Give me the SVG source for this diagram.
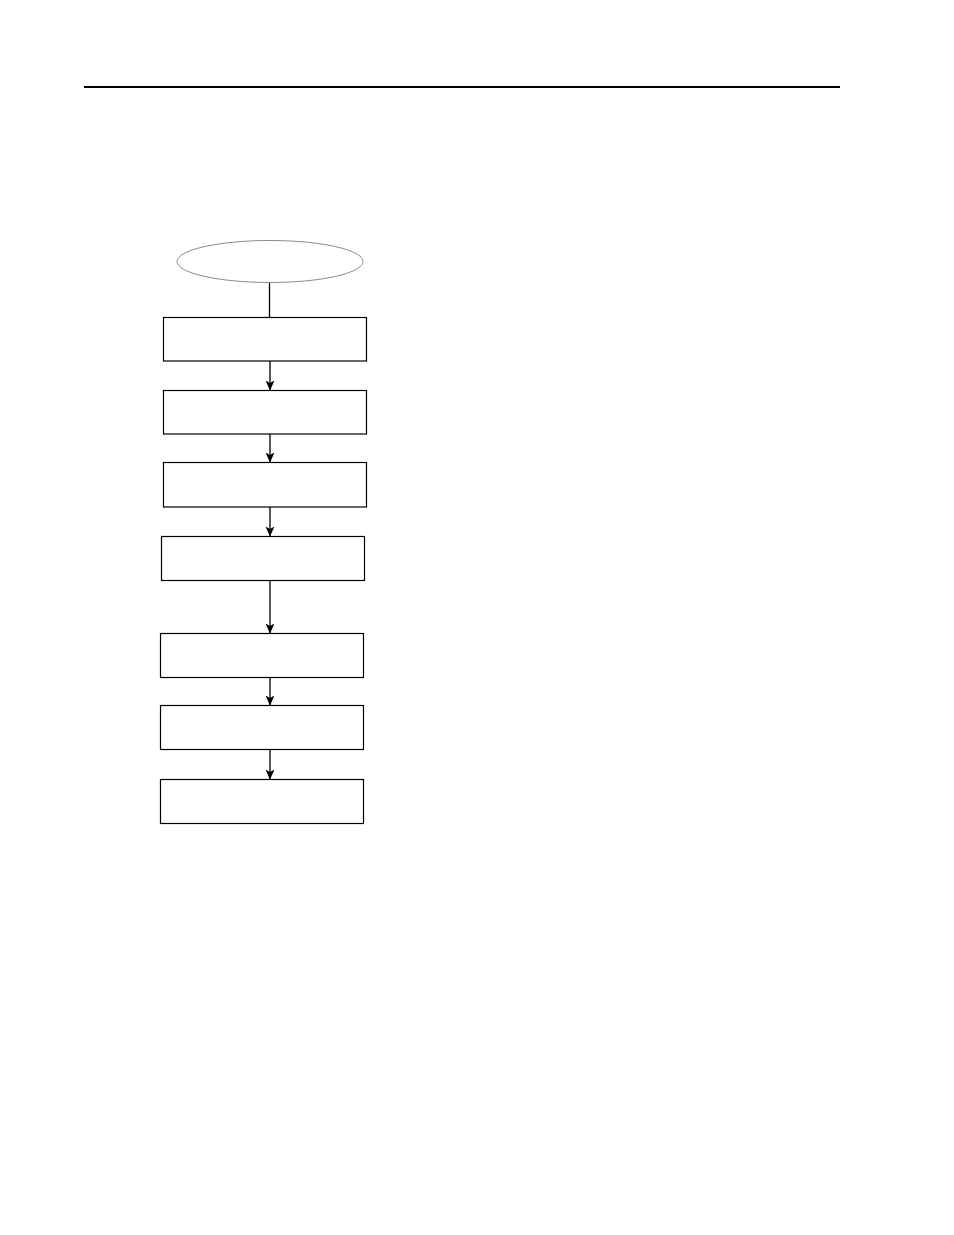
<svg xmlns="http://www.w3.org/2000/svg" width="954" height="1235" viewBox="0 0 954 1235">
<style>
.box{fill:#fff;stroke:#000;stroke-width:1.2}
.conn{stroke:#000;stroke-width:1.3;fill:none}
.start{fill:#fff;stroke:#8c8c8c;stroke-width:1}
</style>
<defs>
<marker id="arr" markerUnits="userSpaceOnUse" markerWidth="10" markerHeight="10" viewBox="0 0 10 10" refX="9.5" refY="5" orient="auto">
<path d="M0,0.5 L10,5 L0,9.5 L2.5,5 Z" fill="#000"/>
</marker>
</defs>
<rect width="954" height="1235" fill="#fff"/>
<line x1="84" y1="87" x2="840" y2="87" stroke="#000" stroke-width="2"/>
<g id="connectors">
<line class="conn" x1="269.5" y1="282" x2="269.5" y2="317.5"/>
<line class="conn" x1="270" y1="361" x2="270" y2="390" marker-end="url(#arr)"/>
<line class="conn" x1="270" y1="434" x2="270" y2="462" marker-end="url(#arr)"/>
<line class="conn" x1="270" y1="507" x2="270" y2="536" marker-end="url(#arr)"/>
<line class="conn" x1="270" y1="580.5" x2="270" y2="633" marker-end="url(#arr)"/>
<line class="conn" x1="270" y1="677.5" x2="270" y2="705" marker-end="url(#arr)"/>
<line class="conn" x1="270" y1="749.5" x2="270" y2="779" marker-end="url(#arr)"/>
</g>
<g id="start"><ellipse class="start" cx="270" cy="261.5" rx="93" ry="21"/></g>
<g id="step1"><rect class="box" x="163.5" y="317.5" width="203" height="43.5"/></g>
<g id="step2"><rect class="box" x="163.5" y="390.5" width="203" height="43.5"/></g>
<g id="step3"><rect class="box" x="163.5" y="462.5" width="203" height="44.5"/></g>
<g id="step4"><rect class="box" x="161.5" y="536.5" width="203" height="44"/></g>
<g id="step5"><rect class="box" x="160.5" y="633.5" width="203" height="44"/></g>
<g id="step6"><rect class="box" x="160.5" y="705.5" width="203" height="44"/></g>
<g id="step7"><rect class="box" x="160.5" y="779.5" width="203" height="44"/></g>
</svg>
